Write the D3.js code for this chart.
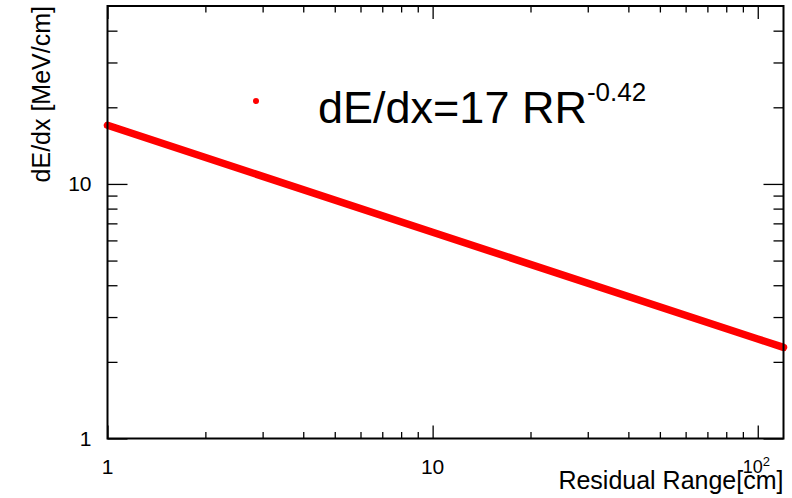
<!DOCTYPE html>
<html>
<head>
<meta charset="utf-8">
<script src="https://cdn.jsdelivr.net/npm/d3@7"></script>
<style>
  html, body { margin: 0; padding: 0; background: #fff; }
  text { font-family: "Liberation Sans", Arial, Helvetica, sans-serif; fill: #000; }
</style>
</head>
<body>
<div id="vis"></div>
<script>
// values (fit line dE/dx = 17 RR^-0.42, straight on log-log)
const rrValues = [1, 10, 100, 120];
const dedxValues = [17.0, 6.46, 2.46, 2.28];

const xMajorTicks = [1, 10, 100];
const xMinorTicks = [2, 3, 4, 5, 6, 7, 8, 9, 20, 30, 40, 50, 60, 70, 80, 90];
const xTickLabels = ["1", "10", "10^2"];
const yMajorTicks = [1, 10];
const yMinorTicks = [2, 3, 4, 5, 6, 7, 8, 9, 20, 30, 40];
const yTickLabels = ["1", "10"];

const legendLabel = "dE/dx=17 RR";
const legendExponent = "-0.42";

var width = 792, height = 498;
var margin = { top: 6, right: 8.5, bottom: 59.5, left: 107.5 };
var x0 = margin.left, x1 = width - margin.right;
var y0 = height - margin.bottom, y1 = margin.top;

var x = d3.scaleLog().domain([1, 120]).range([x0, x1]);
var y = d3.scaleLog().domain([1, 50]).range([y0, y1]);

var svg = d3.select("#vis").append("svg")
    .attr("width", width)
    .attr("height", height);

// fit line
var pts = rrValues.map((v, i) => [v, dedxValues[i]]);
svg.append("path")
    .datum(pts)
    .attr("fill", "none")
    .attr("stroke", "#ff0000")
    .attr("stroke-width", 7.5)
    .attr("stroke-linecap", "round")
    .attr("d", d3.line().x(d => x(d[0])).y(d => y(d[1])));

function tickAxis(axisFn, scale, values, size, transform) {
    svg.append("g")
        .attr("transform", transform)
        .call(axisFn(scale).tickValues(values).tickSizeInner(size).tickSizeOuter(0).tickFormat(""))
        .call(g => g.select(".domain").remove())
        .call(g => g.selectAll("line").attr("stroke", "#000").attr("stroke-width", 1.3));
}

// bottom / top ticks (inward)
tickAxis(d3.axisBottom, x, xMajorTicks, -13, "translate(0," + y0 + ")");
tickAxis(d3.axisBottom, x, xMinorTicks, -6.5, "translate(0," + y0 + ")");
tickAxis(d3.axisTop, x, xMajorTicks, -13, "translate(0," + y1 + ")");
tickAxis(d3.axisTop, x, xMinorTicks, -6.5, "translate(0," + y1 + ")");
// left / right ticks (inward)
tickAxis(d3.axisLeft, y, yMajorTicks, -20, "translate(" + x0 + ",0)");
tickAxis(d3.axisLeft, y, yMinorTicks, -10, "translate(" + x0 + ",0)");
tickAxis(d3.axisRight, y, yMajorTicks, -20, "translate(" + x1 + ",0)");
tickAxis(d3.axisRight, y, yMinorTicks, -10, "translate(" + x1 + ",0)");

// frame
svg.append("rect")
    .attr("x", x0).attr("y", y1)
    .attr("width", x1 - x0).attr("height", y0 - y1)
    .attr("fill", "none")
    .attr("stroke", "#000")
    .attr("stroke-width", 2);

// x tick labels
xMajorTicks.forEach((v, i) => {
    var lab = xTickLabels[i];
    var t = svg.append("text")
        .attr("x", x(v))
        .attr("y", y0 + 35)
        .attr("text-anchor", "middle")
        .attr("font-size", "21px");
    if (lab.indexOf("^") >= 0) {
        var parts = lab.split("^");
        t.attr("x", x(v) - 15).attr("y", y0 + 34).attr("text-anchor", "start").attr("font-size", "18px");
        t.append("tspan").text(parts[0]);
        t.append("tspan").attr("dy", -7).attr("font-size", "13px").text(parts[1]);
    } else {
        t.text(lab);
    }
});

// y tick labels
yMajorTicks.forEach((v, i) => {
    svg.append("text")
        .attr("x", x0 - 16)
        .attr("y", y(v))
        .attr("dy", "0.36em")
        .attr("text-anchor", "end")
        .attr("font-size", "21px")
        .text(yTickLabels[i]);
});

// axis titles
svg.append("text")
    .attr("x", x1)
    .attr("y", 489)
    .attr("text-anchor", "end")
    .attr("font-size", "25px")
    .text("Residual Range[cm]");

svg.append("text")
    .attr("transform", "translate(50," + y1 + ") rotate(-90)")
    .attr("text-anchor", "end")
    .attr("font-size", "25px")
    .text("dE/dx [MeV/cm]");

// legend
svg.append("circle")
    .attr("cx", 256).attr("cy", 101).attr("r", 3)
    .attr("fill", "#ff0000");

var leg = svg.append("text")
    .attr("x", 318)
    .attr("y", 122.5)
    .attr("font-size", "45px");
leg.append("tspan").text(legendLabel);
leg.append("tspan")
    .attr("dy", -21.5)
    .attr("font-size", "26px")
    .text(legendExponent);
</script>
</body>
</html>
